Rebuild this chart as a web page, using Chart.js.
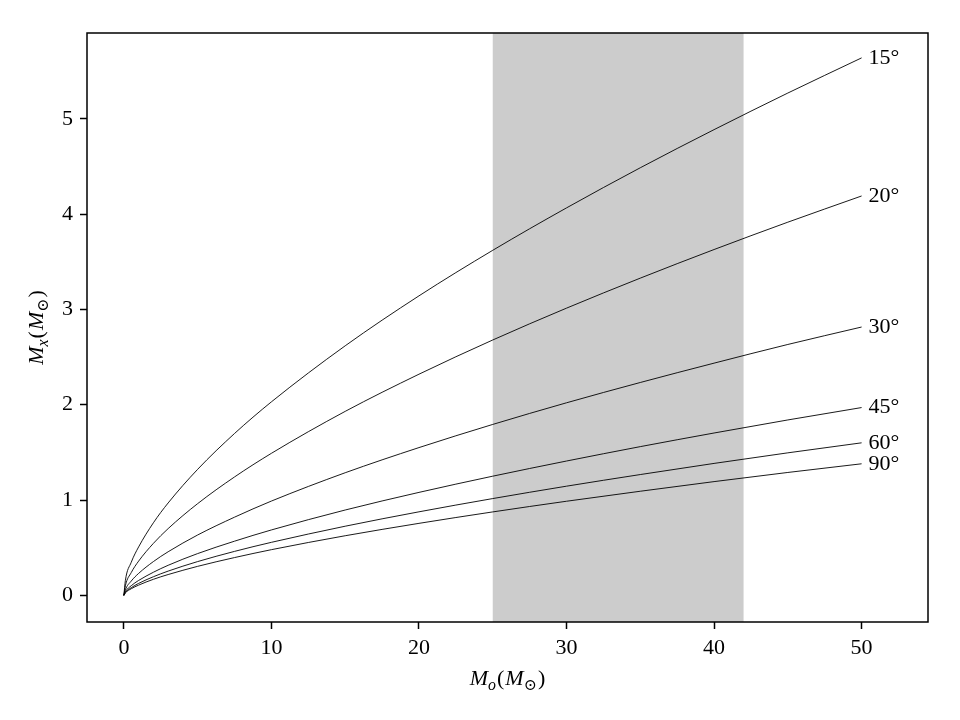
<!DOCTYPE html>
<html>
<head>
<meta charset="utf-8">
<script src="https://cdn.jsdelivr.net/npm/chart.js@4.4.1/dist/chart.umd.min.js"></script>
<style>
  html, body { margin: 0; padding: 0; background: #fff; }
  canvas { display: block; }
</style>
</head>
<body>
<canvas id="massChart" width="960" height="720"></canvas>
<script>
// optical companion mass (x axis)
const massObs = [0, 0.1, 0.5, 1, 2, 3, 5, 7.5, 10, 15, 20, 25, 30, 35, 40, 45, 50];
const inclinationLabels = ['15°', '20°', '30°', '45°', '60°', '90°'];

// compact object mass for each inclination
const mx15 = [0, 0.155, 0.347, 0.508, 0.761, 0.969, 1.322, 1.698, 2.030, 2.618, 3.142, 3.620, 4.065, 4.486, 4.886, 5.270, 5.639];
const mx20 = [0, 0.100, 0.239, 0.359, 0.545, 0.700, 0.962, 1.242, 1.490, 1.930, 2.320, 2.679, 3.013, 3.328, 3.628, 3.915, 4.190];
const mx30 = [0, 0.058, 0.150, 0.230, 0.354, 0.457, 0.633, 0.820, 0.989, 1.286, 1.550, 1.793, 2.020, 2.233, 2.436, 2.632, 2.815];
const mx45 = [0, 0.038, 0.101, 0.156, 0.242, 0.315, 0.438, 0.568, 0.686, 0.895, 1.080, 1.250, 1.409, 1.560, 1.703, 1.840, 1.970];
const mx60 = [0, 0.030, 0.080, 0.125, 0.195, 0.254, 0.354, 0.461, 0.556, 0.725, 0.876, 1.015, 1.145, 1.267, 1.384, 1.495, 1.600];
const mx90 = [0, 0.025, 0.069, 0.107, 0.168, 0.218, 0.304, 0.396, 0.479, 0.625, 0.755, 0.875, 0.987, 1.092, 1.193, 1.289, 1.380];

const shadeRange = [25, 42];
const xTicks = [0, 10, 20, 30, 40, 50];
const yTicks = [0, 1, 2, 3, 4, 5];

const serif = "'Liberation Serif', 'DejaVu Serif', serif";
const seriesList = [mx15, mx20, mx30, mx45, mx60, mx90];

const datasets = seriesList.map((vals, i) => ({
    label: inclinationLabels[i],
    data: massObs.map((m, j) => ({ x: m, y: vals[j] })),
    borderColor: '#000',
    borderWidth: 0.9,
    pointRadius: 0,
    fill: false,
    cubicInterpolationMode: 'monotone'
}));

// pieces of an axis title: italic M, subscripts, sun symbol
function drawRichText(ctx, parts, cx, cy, size) {
    let total = 0;
    parts.forEach(p => {
        const fs = p.sub ? size * 0.72 : size;
        ctx.font = (p.italic ? 'italic ' : '') + fs + 'px ' + serif;
        p.w = ctx.measureText(p.t).width + (p.gap || 0);
        p.fs = fs;
        total += p.w;
    });
    let x = cx - total / 2;
    ctx.textBaseline = 'alphabetic';
    ctx.textAlign = 'left';
    parts.forEach(p => {
        ctx.font = (p.italic ? 'italic ' : '') + p.fs + 'px ' + serif;
        ctx.fillText(p.t, x, cy + size * 0.35 + (p.sub ? size * 0.22 : 0));
        x += p.w;
    });
}

const decorPlugin = {
    id: 'decor',
    beforeDatasetsDraw(chart) {
        const { ctx, chartArea, scales } = chart;
        const x0 = scales.x.getPixelForValue(shadeRange[0]);
        const x1 = scales.x.getPixelForValue(shadeRange[1]);
        ctx.save();
        ctx.fillStyle = '#cccccc';
        ctx.fillRect(x0, chartArea.top, x1 - x0, chartArea.bottom - chartArea.top);
        ctx.restore();
    },
    afterDraw(chart) {
        const { ctx, chartArea } = chart;
        ctx.save();
        ctx.strokeStyle = '#000';
        ctx.lineWidth = 1.5;
        ctx.strokeRect(chartArea.left, chartArea.top, chartArea.right - chartArea.left, chartArea.bottom - chartArea.top);

        // inclination labels at the end of each curve
        ctx.fillStyle = '#000';
        ctx.font = '22px ' + serif;
        ctx.textBaseline = 'middle';
        ctx.textAlign = 'left';
        chart.data.datasets.forEach((ds, i) => {
            const pts = chart.getDatasetMeta(i).data;
            const last = pts[pts.length - 1];
            ctx.fillText(ds.label, last.x + 7, last.y);
        });

        // axis titles
        const midX = (chartArea.left + chartArea.right) / 2;
        const midY = (chartArea.top + chartArea.bottom) / 2;
        drawRichText(ctx, [
            { t: 'M', italic: true }, { t: 'o', italic: true, sub: true, gap: 1 },
            { t: '(', gap: 1 }, { t: 'M', italic: true }, { t: '⊙', sub: true, gap: 1 }, { t: ')' }
        ], midX, 677, 22);
        ctx.translate(35, midY);
        ctx.rotate(-Math.PI / 2);
        drawRichText(ctx, [
            { t: 'M', italic: true }, { t: 'x', italic: true, sub: true, gap: 1 },
            { t: '(', gap: 1 }, { t: 'M', italic: true }, { t: '⊙', sub: true, gap: 1 }, { t: ')' }
        ], 0, 0, 22);
        ctx.restore();
    }
};

const axisStyle = {
    grid: { display: true, drawOnChartArea: false, drawTicks: true, tickLength: 7, tickWidth: 1.5, tickColor: '#000' },
    border: { display: false },
    ticks: { color: '#000', font: { family: serif, size: 22 }, padding: 6, maxRotation: 0 }
};

new Chart(document.getElementById('massChart'), {
    type: 'line',
    data: { datasets: datasets },
    options: {
        responsive: false,
        animation: false,
        layout: { padding: { left: 20, right: 32, top: 33, bottom: 28 } },
        plugins: { legend: { display: false }, tooltip: { enabled: false } },
        scales: {
            x: {
                type: 'linear',
                min: -2.5,
                max: 54.5,
                ...axisStyle,
                afterBuildTicks: s => { s.ticks = xTicks.map(v => ({ value: v })); },
                afterFit: s => { s.height = 70; }
            },
            y: {
                type: 'linear',
                min: -0.28,
                max: 5.9,
                ...axisStyle,
                ticks: { ...axisStyle.ticks, padding: 7 },
                afterBuildTicks: s => { s.ticks = yTicks.map(v => ({ value: v })); },
                afterFit: s => { s.width = 67; }
            }
        }
    },
    plugins: [decorPlugin]
});
</script>
</body>
</html>
